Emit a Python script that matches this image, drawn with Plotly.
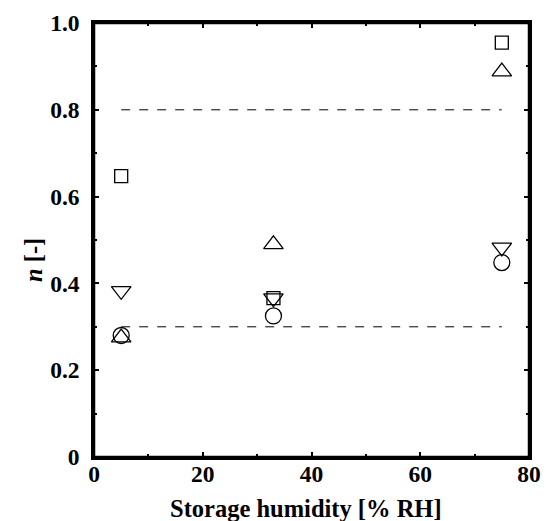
import plotly.graph_objects as go

humidity = [5, 33, 75]
n_square = [0.647, 0.366, 0.955]
n_tri_up = [0.275, 0.49, 0.888]
n_tri_down = [0.383, 0.366, 0.483]
n_circle = [0.28, 0.325, 0.448]
line_x = [5, 75]
upper_line = [0.8, 0.8]
lower_line = [0.3, 0.3]
x_range = [0, 80]
y_range = [0, 1.0]
x_ticks = [0, 20, 40, 60, 80]
x_minor_ticks = [10, 30, 50, 70]
x_tick_text = ["<b>0</b>", "<b>20</b>", "<b>40</b>", "<b>60</b>", "<b>80</b>"]
y_ticks = [0, 0.2, 0.4, 0.6, 0.8, 1.0]
y_minor_ticks = [0.1, 0.3, 0.5, 0.7, 0.9]
y_tick_text = ["<b>0</b>", "<b>0.2</b>", "<b>0.4</b>", "<b>0.6</b>", "<b>0.8</b>", "<b>1.0</b>"]

font = "Liberation Serif"
ink = "#000000"
fig = go.Figure()
for ys in (upper_line, lower_line):
    fig.add_trace(go.Scatter(x=line_x, y=ys, mode="lines",
                             line=dict(color="black", width=1, dash="dash"),
                             showlegend=False, hoverinfo="skip"))
specs = [(n_square, "square-open", 13), (n_tri_up, "triangle-up-open", 17),
         (n_tri_down, "triangle-down-open", 17), (n_circle, "circle-open", 16)]
for ys, sym, sz in specs:
    fig.add_trace(go.Scatter(x=humidity, y=ys, mode="markers",
                             marker=dict(symbol=sym, size=sz, color="black",
                                         line=dict(color="black", width=1.3)),
                             showlegend=False))

axis_common = dict(showline=True, linecolor=ink, linewidth=2.5, mirror="allticks",
                   ticks="inside", ticklen=5, tickwidth=1.5, tickcolor=ink,
                   showgrid=False, zeroline=False, automargin=False, layer="above traces",
                   tickfont=dict(family=font, size=23.5, color="black"))
fig.update_xaxes(range=x_range, tickvals=x_ticks, ticktext=x_tick_text,
                 minor=dict(ticks="inside", ticklen=3, tickwidth=1.5, tickcolor=ink,
                            tickvals=x_minor_ticks, showgrid=False),
                 ticklabelstandoff=-6, **axis_common)
fig.update_yaxes(range=y_range, tickvals=y_ticks, ticktext=y_tick_text,
                 minor=dict(ticks="inside", ticklen=3, tickwidth=1.5, tickcolor=ink,
                            tickvals=y_minor_ticks, showgrid=False),
                 ticklabelstandoff=7, **axis_common)

# frame as a layout shape as well, in case axis lines are not drawn
fig.add_shape(type="rect", xref="paper", yref="paper", x0=0, y0=0, x1=1, y1=1,
              line=dict(color=ink, width=2.5), layer="above")

fig.add_annotation(text="<b>Storage humidity [% RH]</b>", xref="paper", yref="paper",
                   x=(306 - 94) / 435, y=-(508 - 457) / 434, xanchor="center", yanchor="middle",
                   showarrow=False, font=dict(family=font, size=24.5, color="black"))
fig.add_annotation(text="<b><i>n</i> [-]</b>", xref="paper", yref="paper",
                   x=-(94 - 33) / 435, y=(457 - 260) / 434, xanchor="center", yanchor="middle",
                   textangle=-90, showarrow=False,
                   font=dict(family=font, size=24.5, color="black"))

fig.update_layout(width=546, height=521, margin=dict(l=94, r=17, t=23, b=64),
                  plot_bgcolor="white", paper_bgcolor="white")
fig.write_html("out.html", post_script="document.body.style.margin='0';",
               config={"displayModeBar": False})
